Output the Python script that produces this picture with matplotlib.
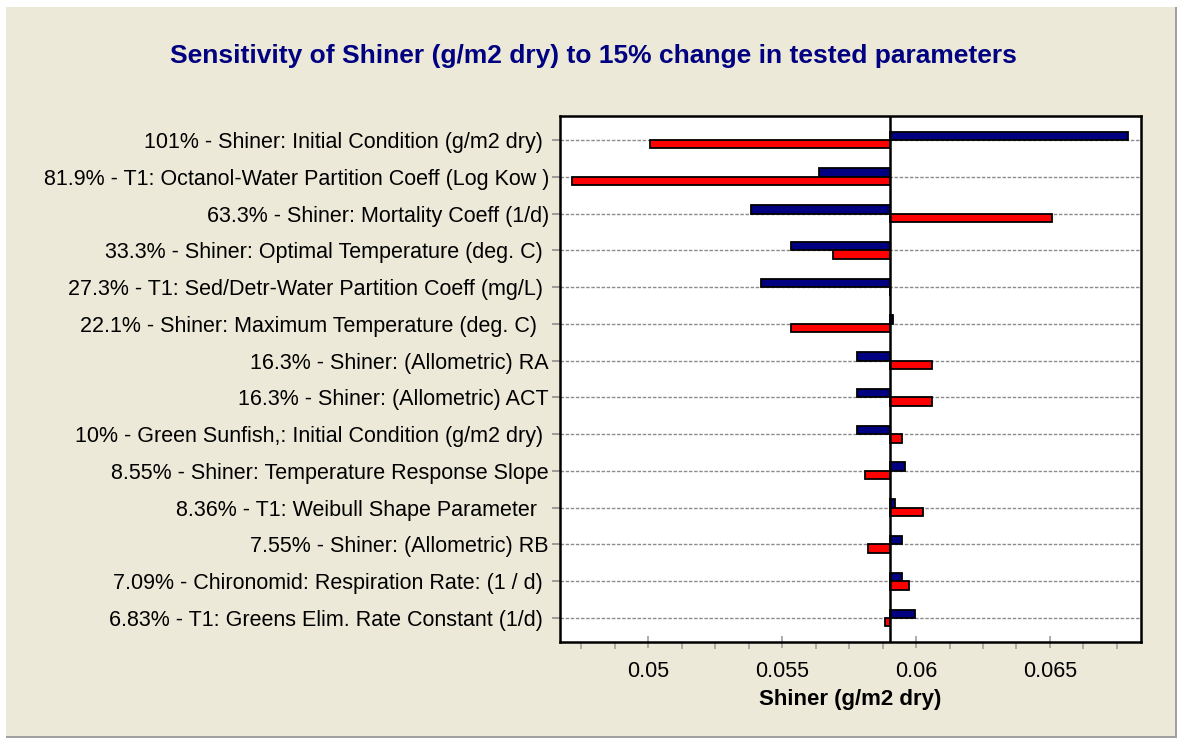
import numpy as np
import matplotlib
matplotlib.use('Agg')
import matplotlib.pyplot as plt
from matplotlib.patches import Rectangle
from matplotlib.ticker import MultipleLocator

plt.rcParams['font.family'] = ['Liberation Sans', 'DejaVu Sans']

# data (Shiner g/m2 dry at +/-15% of each parameter)
labels = [
    '101% - Shiner: Initial Condition (g/m2 dry) ',
    '81.9% - T1: Octanol-Water Partition Coeff (Log Kow )',
    '63.3% - Shiner: Mortality Coeff (1/d)',
    '33.3% - Shiner: Optimal Temperature (deg. C) ',
    '27.3% - T1: Sed/Detr-Water Partition Coeff (mg/L) ',
    '22.1% - Shiner: Maximum Temperature (deg. C)  ',
    '16.3% - Shiner: (Allometric) RA',
    '16.3% - Shiner: (Allometric) ACT',
    '10% - Green Sunfish,: Initial Condition (g/m2 dry) ',
    '8.55% - Shiner: Temperature Response Slope',
    '8.36% - T1: Weibull Shape Parameter  ',
    '7.55% - Shiner: (Allometric) RB',
    '7.09% - Chironomid: Respiration Rate: (1 / d) ',
    '6.83% - T1: Greens Elim. Rate Constant (1/d) ',
]
baseline = 0.05904
blue_vals = [0.06790, 0.05636, 0.05383, 0.05533, 0.05420, 0.05914, 0.05778,
             0.05778, 0.05778, 0.05958, 0.05921, 0.05949, 0.05949, 0.05995]
red_vals = [0.05006, 0.04715, 0.06508, 0.05689, 0.05904, 0.05533, 0.06061,
            0.06061, 0.05949, 0.05808, 0.06024, 0.05822, 0.05972, 0.05882]
xticks = [0.05, 0.055, 0.06, 0.065]
xticklabels = ['0.05', '0.055', '0.06', '0.065']

W, H = 1177, 738
fig = plt.figure(figsize=(W / 100, H / 100), dpi=100)
fig.patch.set_facecolor('white')
# beige panel with a grey edge on the right and bottom
fig.patches.append(Rectangle((6 / W, 0), (1177 - 6) / W, (H - 7) / H,
                             transform=fig.transFigure, facecolor='#A0A0A0',
                             edgecolor='none', zorder=-2))
fig.patches.append(Rectangle((6 / W, 2 / H), (1175 - 6) / W, (H - 7 - 2) / H,
                             transform=fig.transFigure, facecolor='#ECE9D8',
                             edgecolor='none', zorder=-1))

ax = fig.add_axes([560 / W, 1 - 642 / H, 581 / W, 526 / H])
ax.set_facecolor('white')

y = np.arange(len(labels))
h = 0.23
blue = np.array(blue_vals)
red = np.array(red_vals)
ax.barh(y - h, blue - baseline, left=baseline, height=h, align='edge',
        color='#000080', edgecolor='black', linewidth=1.3, zorder=3)
ax.barh(y, red - baseline, left=baseline, height=h, align='edge',
        color='#FF0000', edgecolor='black', linewidth=1.3, zorder=3)
ax.axvline(baseline, color='black', linewidth=1.8, zorder=4)

ax.set_xlim(0.0467, 0.0684)
ax.set_ylim(len(labels) - 1 + 0.652, -0.652)

ax.set_yticks(y)
ax.set_yticklabels(labels, fontsize=15.5)
ax.yaxis.grid(True, color='#8C8C8C', linestyle=(0, (2.5, 1.2)), linewidth=1, zorder=1)
ax.tick_params(axis='y', length=6, width=1.2, color='#8C8C8C', pad=2)

ax.set_xticks(xticks)
ax.set_xticklabels(xticklabels, fontsize=15.5)
ax.xaxis.set_minor_locator(MultipleLocator(0.00125))
ax.tick_params(axis='x', which='major', direction='inout', length=9, width=1.2,
               color='#A0A0A0', pad=9)
ax.tick_params(axis='x', which='minor', direction='out', length=5, width=1.2,
               color='#A0A0A0')
ax.set_xlabel('Shiner (g/m2 dry)', fontsize=16, fontweight='bold', labelpad=5)

for sp in ax.spines.values():
    sp.set_linewidth(1.8)
    sp.set_color('black')

fig.text(593 / W, 1 - 56 / H,
         'Sensitivity of Shiner (g/m2 dry) to 15% change in tested parameters',
         ha='center', va='center', fontsize=19, fontweight='bold', color='#000080')

fig.savefig('out.png', dpi=100, facecolor=fig.get_facecolor())
